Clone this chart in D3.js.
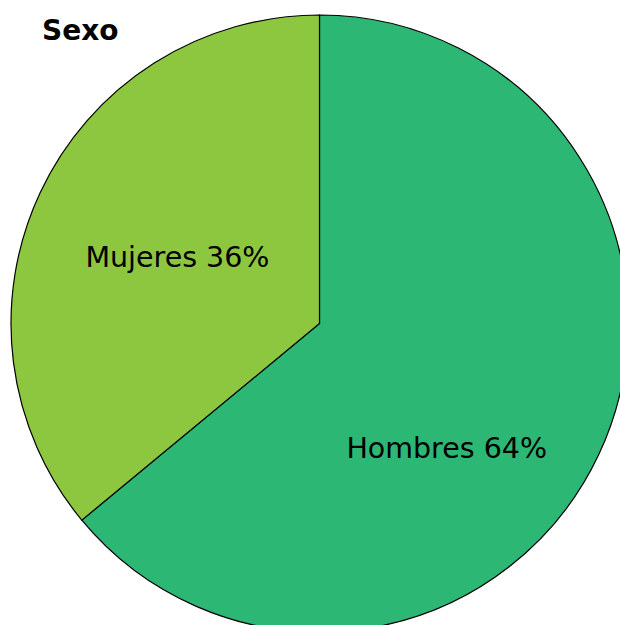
<!DOCTYPE html>
<html>
<head>
<meta charset="utf-8">
<script src="https://cdn.jsdelivr.net/npm/d3@7"></script>
<style>
  body { margin: 0; background: #fff; }
  svg { display: block; }
  .title { font-family: "DejaVu Sans", Verdana, sans-serif; font-weight: bold; font-size: 28px; }
  .slice-label { font-family: "DejaVu Sans", Verdana, sans-serif; font-size: 28.5px; }
</style>
</head>
<body>
<div id="chart"></div>
<script>
// Data
const categories = ['Hombres', 'Mujeres'];
const percents = [64, 36];
const colors = ['#2db775', '#8dc63f'];
const chartTitle = 'Sexo';

const width = 620, height = 625;
const cx = 319.5, cy = 323.5, radius = 308.5;

// label placement per slice (radius and angle nudge, in radians)
const labelLayout = {
  Hombres: {r: 178, nudge: 0.335},
  Mujeres: {r: 157, nudge: 0}
};

const svg = d3.select('#chart').append('svg')
    .attr('width', width)
    .attr('height', height);

const data = categories.map((c, i) => ({name: c, value: percents[i], color: colors[i]}));

const pie = d3.pie()
    .sort(null)
    .value(d => d.value);

const arc = d3.arc()
    .innerRadius(0)
    .outerRadius(radius);

const g = svg.append('g')
    .attr('transform', `translate(${cx},${cy})`);

const arcs = pie(data);

g.selectAll('path.slice')
    .data(arcs)
  .join('path')
    .attr('class', 'slice')
    .attr('d', arc)
    .attr('fill', d => d.data.color)
    .attr('stroke', '#000')
    .attr('stroke-width', 1.2)
    .attr('stroke-linejoin', 'miter');

g.selectAll('text.slice-label')
    .data(arcs)
  .join('text')
    .attr('class', 'slice-label')
    .attr('text-anchor', 'middle')
    .attr('dy', '0.35em')
    .attr('x', d => {
      const l = labelLayout[d.data.name];
      const a = (d.startAngle + d.endAngle) / 2 + l.nudge;
      return Math.sin(a) * l.r;
    })
    .attr('y', d => {
      const l = labelLayout[d.data.name];
      const a = (d.startAngle + d.endAngle) / 2 + l.nudge;
      return -Math.cos(a) * l.r;
    })
    .text(d => `${d.data.name} ${d.data.value}%`);

svg.append('text')
    .attr('class', 'title')
    .attr('x', 42)
    .attr('y', 40)
    .text(chartTitle);
</script>
</body>
</html>
